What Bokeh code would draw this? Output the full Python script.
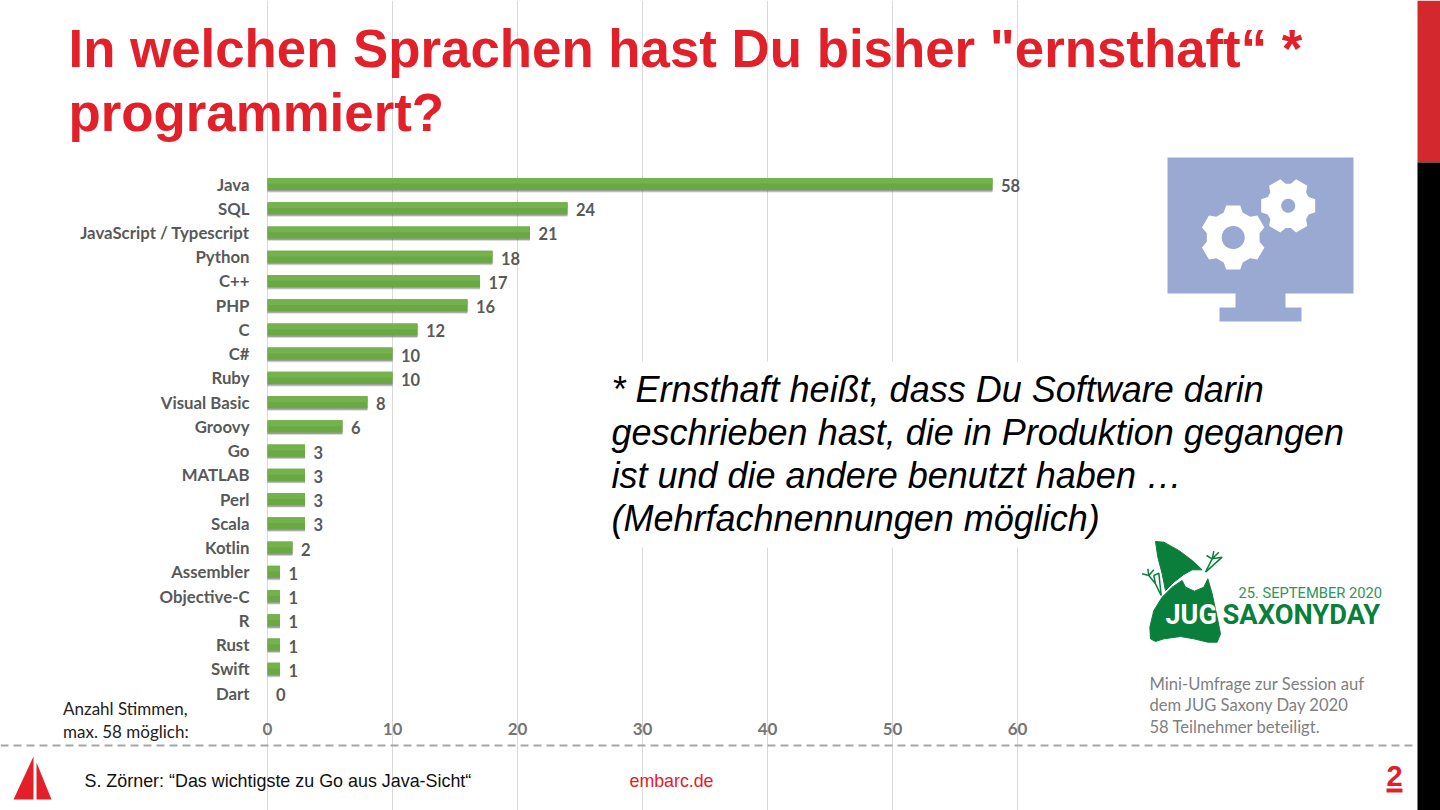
import numpy as np
from bokeh.embed import file_html
from bokeh.resources import INLINE
from bokeh.plotting import figure
from bokeh.models import (ColumnDataSource, Range1d, Label, BoxAnnotation, PolyAnnotation, FixedTicker,
                          LinearAxis, Grid)
from bokeh.core.properties import value
from bokeh.transform import dodge

languages = ["Java", "SQL", "JavaScript / Typescript", "Python", "C++", "PHP", "C", "C#", "Ruby",
             "Visual Basic", "Groovy", "Go", "MATLAB", "Perl", "Scala", "Kotlin", "Assembler",
             "Objective-C", "R", "Rust", "Swift", "Dart"]
votes = [58, 24, 21, 18, 17, 16, 12, 10, 10, 8, 6, 3, 3, 3, 3, 2, 1, 1, 1, 1, 1, 0]
x_ticks = [0, 10, 20, 30, 40, 50, 60]

RED = "#E2202A"
GREEN = "#0A7F3C"
ICON = "#9AA9D2"
CALIBRI = "Lato"
W, H = 1440, 810
PX_PER_VOTE = 12.5
PX_PER_ROW = 24.24
X0, Y0 = 267, 183.5   # pixel of 0 votes, pixel of first row

positions = list(range(len(languages)))

p = figure(width=W, height=H, output_backend="svg", toolbar_location=None,
           x_range=Range1d(-X0 / PX_PER_VOTE, (W - X0) / PX_PER_VOTE),
           y_range=Range1d((H - Y0) / PX_PER_ROW, -Y0 / PX_PER_ROW),
           x_axis_type=None, y_axis_type=None,
           min_border=0, min_border_left=0, min_border_right=0, min_border_top=0, min_border_bottom=0)
p.outline_line_color = None
p.background_fill_color = "white"
p.border_fill_color = "white"

xaxis = LinearAxis(ticker=FixedTicker(ticks=x_ticks), fixed_location=len(languages) - 0.5)
xaxis.axis_line_color = None
xaxis.major_tick_line_color = None
xaxis.minor_tick_line_color = None
xaxis.major_tick_out = 0
xaxis.major_tick_in = 0
xaxis.major_label_standoff = 18
xaxis.major_label_text_font = CALIBRI
xaxis.major_label_text_font_style = "bold"
xaxis.major_label_text_font_size = "17px"
xaxis.major_label_text_color = "#767676"
p.add_layout(xaxis, "below")

yaxis = LinearAxis(ticker=FixedTicker(ticks=positions), fixed_location=0,
                   major_label_overrides=dict(zip(positions, languages)))
yaxis.axis_line_color = None
yaxis.major_tick_line_color = None
yaxis.minor_tick_line_color = None
yaxis.major_tick_out = 0
yaxis.major_tick_in = 0
yaxis.major_label_standoff = 18
yaxis.major_label_text_font = CALIBRI
yaxis.major_label_text_font_style = "bold"
yaxis.major_label_text_font_size = "16.8px"
yaxis.major_label_text_color = "#595959"
p.add_layout(yaxis, "left")

p.add_layout(Grid(dimension=0, ticker=FixedTicker(ticks=x_ticks), grid_line_color="#D9D9D9",
                  bounds=(-0.5, len(languages) - 0.5)))

src = ColumnDataSource(dict(pos=positions, votes=votes, text=[str(v) for v in votes]))
p.hbar(y=dodge("pos", 0.1), right="votes", left=0, height=0.5, source=src,
       fill_color="#555555", fill_alpha=0.22, line_color=None)
p.hbar(y=dodge("pos", 0.06), right="votes", left=0, height=0.5, source=src,
       fill_color="#555555", fill_alpha=0.45, line_color=None)
p.hbar(y="pos", right="votes", left=0, height=0.5, source=src, fill_color="#6AA843", line_color=None)
p.hbar(y=dodge("pos", -0.13), right="votes", left=0, height=0.24, source=src,
       fill_color="#74B24D", line_color=None)
p.text(x="votes", y="pos", text="text", source=src, x_offset=8.5, y_offset=1.5, text_baseline="middle",
       text_font=value(CALIBRI), text_font_style="bold", text_font_size="16.5px", text_color="#595959")


def box(l, t, r, b, color):
    p.add_layout(BoxAnnotation(left=l, right=r, top=t, bottom=b,
                               left_units="canvas", right_units="canvas", top_units="canvas",
                               bottom_units="canvas", fill_color=color, fill_alpha=1,
                               line_color=None, level="annotation"))


def poly(xs, ys, color=None, line=None, lw=1, dash="solid"):
    p.add_layout(PolyAnnotation(xs=[float(v) for v in xs], ys=[float(v) for v in ys],
                                xs_units="canvas", ys_units="canvas",
                                fill_color=color, fill_alpha=1 if color else 0,
                                line_color=line, line_alpha=1, line_width=lw, line_dash=dash,
                                level="annotation"))


def label(x, y, text, font="Liberation Sans", size=16, color="black", style="normal",
          baseline="middle", align="left", **kw):
    p.add_layout(Label(x=x, y=y, x_units="canvas", y_units="canvas", text=text,
                       text_font=font, text_font_size=f"{size}px", text_color=color,
                       text_font_style=style, text_baseline=baseline, text_align=align,
                       level="annotation", **kw))


def gear(cxv, cyv, outer, body, hole, rot, tooth_half):
    xs, ys = [], []
    for k in range(6):
        a = rot + k * np.pi / 3
        d = np.array([np.cos(a), np.sin(a)])
        n = np.array([-d[1], d[0]])
        for rr, s in ((body, -1.35), (outer, -1), (outer, 1), (body, 1.35)):
            pt = np.array([cxv, cyv]) + rr * d + s * tooth_half * n
            xs.append(pt[0])
            ys.append(pt[1])
    poly(xs, ys, "white")
    t = np.linspace(0, 2 * np.pi, 40)[:-1]
    poly(cxv + hole * np.cos(t), cyv + hole * np.sin(t), ICON)


# white panel behind the note (masks the grid lines)
box(600, 361, 1030, 547, "white")

# right side bar
box(1417, 0, 1440, 162, "#D2282E")
box(1417, 162, 1440, 810, "black")

# title
for y, t in ((48, 'In welchen Sprachen hast Du bisher "ernsthaft“ *'), (112, "programmiert?")):
    label(68, y, t, size=52.8, color=RED, style="bold")

# monitor icon
poly([1167, 1353, 1353, 1285, 1285, 1301, 1301, 1219, 1219, 1235, 1235, 1167],
     [157, 157, 293, 293, 307, 307, 321, 321, 307, 307, 293, 293], ICON)
gear(1232.7, 237, 32, 25, 11.5, np.pi / 2, 7)
gear(1287.7, 205.3, 27, 20.5, 7, 0, 6.5)

# note
for y, t in ((389, "* Ernsthaft heißt, dass Du Software darin"),
             (432, "geschrieben hast, die in Produktion gegangen"),
             (475, "ist und die andere benutzt haben …"),
             (518, "(Mehrfachnennungen möglich)")):
    label(611, y, t, size=36, style="italic")

# JUG logo
ox, oy = 1120, 530
hat = [(105, 33), (130, 35), (175, 60), (215, 90), (245, 118), (215, 118), (190, 132), (160, 155), (135, 180),
       (125, 130), (112, 80)]
bodyp = [(185, 150), (195, 170), (222, 182), (250, 170), (262, 145), (275, 190), (290, 260), (300, 310),
         (290, 335), (262, 335), (220, 325), (180, 318), (130, 325), (105, 333), (90, 325), (88, 290),
         (100, 240), (125, 200), (155, 170)]
for shape in (hat, bodyp):
    poly([ox + a / 3 for a, _ in shape], [oy + b / 3 for _, b in shape], GREEN, GREEN, 1)
for seg in ([(122, 195), (105, 160), (85, 135), (65, 130), (85, 135), (82, 115), (85, 135), (100, 118),
             (85, 135), (105, 160), (100, 135), (115, 128)],
            [(255, 125), (275, 85), (258, 75), (275, 85), (280, 62), (275, 85), (295, 65), (275, 85),
             (305, 80)]):
    poly([ox + a / 3 for a, _ in seg], [oy + b / 3 for _, b in seg], None, GREEN, 1.5)
label(1238, 592, "25. SEPTEMBER 2020", font="Roboto", size=14.7, color="#2F9459")
label(1165, 614, "JUG", font="Roboto", size=27, color="white", style="bold")
label(1222, 614, "SAXONYDAY", font="Roboto", size=27.3, color=GREEN, style="bold")

# gray note
for y, t in ((683, "Mini-Umfrage zur Session auf"), (704, "dem JUG Saxony Day 2020"),
             (726, "58 Teilnehmer beteiligt.")):
    label(1149, y, t, font=CALIBRI, size=16.6, color="#7F7F7F")

# axis caption
label(62.5, 708, "Anzahl Stimmen,", font=CALIBRI, size=17, color="#222222")
label(62.5, 731, "max. 58 möglich:", font=CALIBRI, size=17, color="#222222")

# footer
poly([0, 1417], [745, 745], None, "#A6A6A6", 2, "8 5")
poly([33, 33, 13], [756, 799, 799], RED)
poly([36, 36, 51], [762, 799, 799], RED)
label(84, 780, "S. Zörner: “Das wichtigste zu Go aus Java-Sicht“", size=17.9, color="#111111")
label(629, 780, "embarc.de", size=17.8, color=RED)
label(1394, 775, "2", size=29, color=RED, style="bold", align="center")
box(1386, 788, 1402, 792, RED)

open("out.html", "w").write(file_html(p, INLINE))
